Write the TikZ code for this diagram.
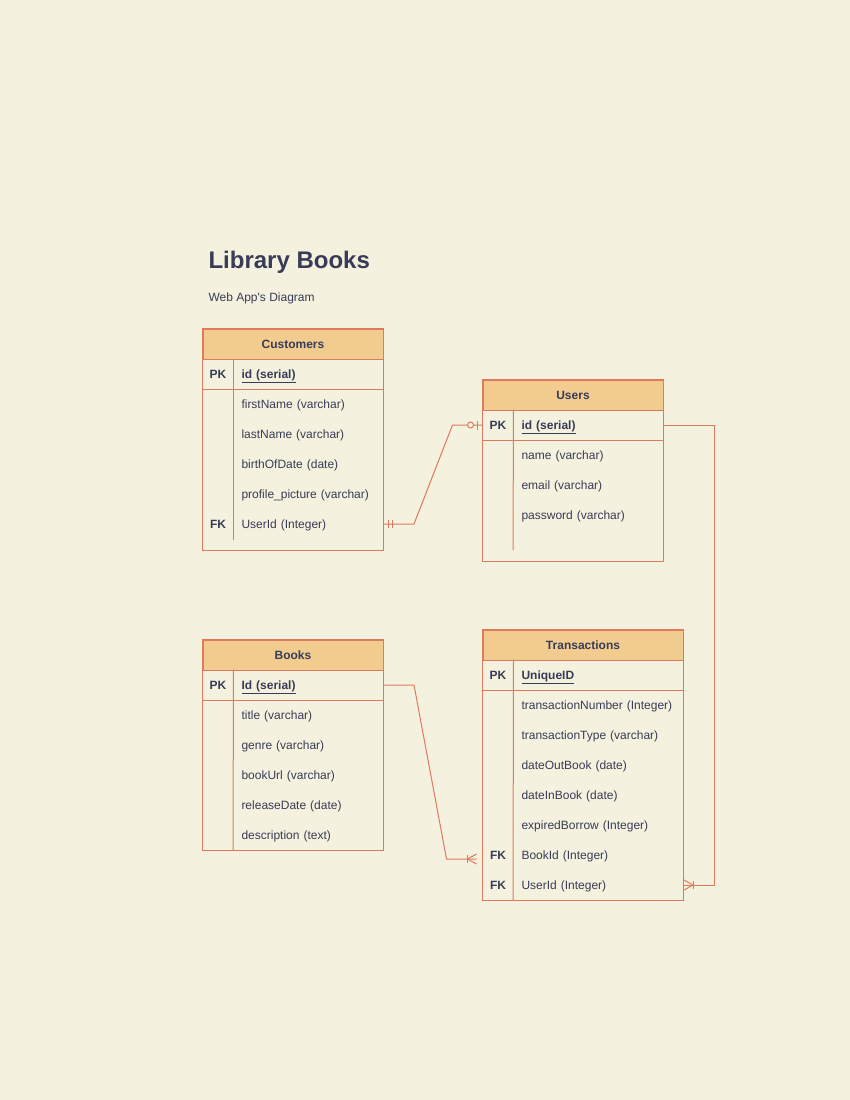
\documentclass[tikz,border=0pt]{standalone}
\usepackage{fontspec}
\setmainfont{Liberation Sans}
\usetikzlibrary{calc}

\definecolor{erbg}{HTML}{F4F1DE}
\definecolor{erhead}{HTML}{F2CC8F}
\definecolor{erline}{HTML}{E07A5F}
\definecolor{erfont}{HTML}{393C56}

\begin{document}
\begin{tikzpicture}[x=1pt, y=-1pt, line width=1pt, text=erfont,
  font=\fontsize{12}{14}\selectfont,
  hdr/.style={draw=erline, fill=erhead, minimum width=#1, minimum height=30pt, inner sep=0pt,
    font=\fontsize{12}{14}\selectfont\bfseries, text height=10pt, text depth=1.4pt},
  hdr/.default=180pt,
  keycol/.style={minimum width=30pt, minimum height=30pt, inner sep=0pt,
    font=\fontsize{12}{14}\selectfont\bfseries, text height=10pt, text depth=1.4pt},
  field/.style={anchor=west, text width=#1, align=left, inner xsep=8pt, inner ysep=0pt,
    minimum height=30pt, text height=10pt, text depth=1.4pt},
  field/.default=134pt,
  pkfield/.style={font=\fontsize{12}{14}\selectfont\bfseries},
  frame/.style={draw=erline},
  rel/.style={draw=erline}]

% Background and page size
\fill[erbg] (0,0) rectangle (850,1100);
\useasboundingbox (0,0) rectangle (850,1100);

% Title
\node[anchor=base west, inner sep=0pt, font=\fontsize{24}{28}\selectfont\bfseries] (title) at (208,268) {Library Books};
\node[anchor=base west, inner sep=0pt] (subtitle) at (208,301) {Web App\textquotesingle s Diagram};

% Customers table
\node[hdr] (cust) at (293,344) {Customers};
\node[keycol] (cust-pk-key) at (218,374) {PK};
\node[field, pkfield] (cust-pk) at (233,374) {\underline{id (serial)}};
\foreach \f [count=\i] in {firstName (varchar), lastName (varchar), birthOfDate (date), profile\_picture (varchar)}
  \node[field] (cust-f\i) at (233,374+30*\i) {\f};
\node[keycol] (cust-fk-key) at (218,524) {FK};
\node[field] (cust-fk) at (233,524) {UserId (Integer)};
\draw[frame] (cust.north west) rectangle (383,550);
\draw[frame] (cust.west |- cust-pk.south) -- (cust-pk.south east);
\draw[frame] (cust-pk-key.north east) -- (cust-fk-key.south east);

% Users table
\node[hdr] (user) at (573,395) {Users};
\node[keycol] (user-pk-key) at (498,425) {PK};
\node[field, pkfield] (user-pk) at (513,425) {\underline{id (serial)}};
\foreach \f [count=\i] in {name (varchar), email (varchar), password (varchar)}
  \node[field] (user-f\i) at (513,425+30*\i) {\f};
\draw[frame] (user.north west) rectangle (663,561);
\draw[frame] (user.west |- user-pk.south) -- (user-pk.south east);
\draw[frame] (user-pk-key.north east) -- (513,550);

% Books table
\node[hdr] (book) at (293,655) {Books};
\node[keycol] (book-pk-key) at (218,685) {PK};
\node[field, pkfield] (book-pk) at (233,685) {\underline{Id (serial)}};
\foreach \f [count=\i] in {title (varchar), genre (varchar), bookUrl (varchar), releaseDate (date), description (text)}
  \node[field] (book-f\i) at (233,685+30*\i) {\f};
\draw[frame] (book.north west) rectangle (383,850);
\draw[frame] (book.west |- book-pk.south) -- (book-pk.south east);
\draw[frame] (book-pk-key.north east) -- (233,850);

% Transactions table
\node[hdr=200pt] (trans) at (583,645) {Transactions};
\node[keycol] (trans-pk-key) at (498,675) {PK};
\node[field=154pt, pkfield] (trans-pk) at (513,675) {\underline{UniqueID}};
\foreach \f [count=\i] in {transactionNumber (Integer), transactionType (varchar), dateOutBook (date), dateInBook (date), expiredBorrow (Integer)}
  \node[field=154pt] (trans-f\i) at (513,675+30*\i) {\f};
\node[keycol] (trans-fk1-key) at (498,855) {FK};
\node[field=154pt] (trans-fk1) at (513,855) {BookId (Integer)};
\node[keycol] (trans-fk2-key) at (498,885) {FK};
\node[field=154pt] (trans-fk2) at (513,885) {UserId (Integer)};
\draw[frame] (trans.north west) rectangle (683,900);
\draw[frame] (trans.west |- trans-pk.south) -- (trans-pk.south east);
\draw[frame] (trans-pk-key.north east) -- (513,900);

% Customers -> Users
\coordinate (cu1) at ($(cust-fk.east)+(30,0)$);
\coordinate (cu2) at ($(user-pk-key.west)+(-30,0)$);
\draw[rel] (cust-fk.east) -- (cu1) -- (cu2) -- (user-pk-key.west);
\draw[rel] ($(cust-fk.east)+(4,-4)$) -- ++(0,8);
\draw[rel] ($(cust-fk.east)+(8,-4)$) -- ++(0,8);
\draw[rel] ($(user-pk-key.west)+(-5,-4.5)$) -- ++(0,9);
\draw[rel, fill=erbg] ($(user-pk-key.west)+(-12,0)$) circle[radius=3pt];

% Users -> Transactions
\coordinate (ut1) at ($(user-pk.east)+(50,0)$);
\draw[rel] (user-pk.east) -- (ut1) |- (trans-fk2.east);
\draw[rel] ($(trans-fk2.east)+(9,-4)$) -- ++(0,8);
\draw[rel] ($(trans-fk2.east)+(0,-5)$) -- ($(trans-fk2.east)+(9,0)$) -- ($(trans-fk2.east)+(0,5)$);

% Books -> Transactions
\coordinate (bookend) at ($(trans-fk1-key.west)+(-6,4)$);
\coordinate (bt1) at ($(book-pk.east)+(30,0)$);
\coordinate (bt2) at ($(bookend)+(-30,0)$);
\draw[rel] (book-pk.east) -- (bt1) -- (bt2) -- (bookend);
\draw[rel] ($(bookend)+(-9,-4)$) -- ++(0,8);
\draw[rel] ($(bookend)+(0,-5)$) -- ($(bookend)+(-9,0)$) -- ($(bookend)+(0,5)$);

\end{tikzpicture}
\end{document}
